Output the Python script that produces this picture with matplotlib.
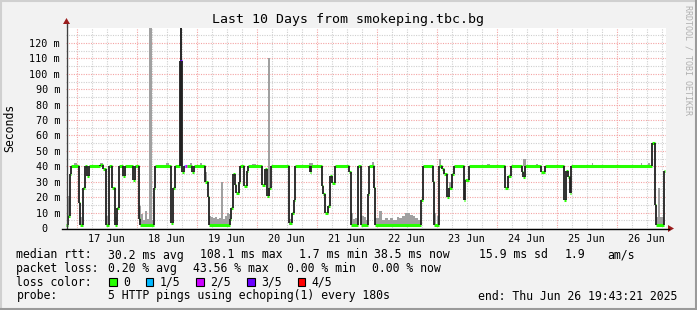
import numpy as np
import matplotlib.pyplot as plt
from matplotlib.lines import Line2D
from matplotlib.patches import Rectangle, Polygon

# time axis: hours after Mon Jun 16 19:43:21 2025 (10 days, end Thu Jun 26 19:43:21)
t_end = 239.6
first_midnight = 24 - (19 + 43 / 60 + 21 / 3600)
day_labels = ["17 Jun", "18 Jun", "19 Jun", "20 Jun", "21 Jun",
              "22 Jun", "23 Jun", "24 Jun", "25 Jun", "26 Jun"]

# median rtt as steps: start hour, value in ms, lost pings of 5
med_t = [0.0, 0.8, 1.4, 1.8, 5.1, 5.5, 6.8, 7.5, 8.5, 9.2, 13.6, 14.7, 16.1, 17.1,
         18.4, 19.5, 20.4, 21.1, 22.8, 23.5, 26.8, 27.7, 29.3, 29.7, 35.1, 35.7,
         42.1, 42.8, 43.5, 45.7, 46.2, 47.1, 47.5, 48.3, 50.4, 51.1, 55.7, 56.7,
         57.1, 65.7, 66.0, 66.7, 67.5, 68.0, 69.1, 69.7, 71.1, 72.4, 72.8, 78.4,
         79.5, 80.4, 81.3, 82.1, 89.1, 90.4, 91.3, 91.7, 97.5, 98.0, 102.4, 102.8,
         103.7, 104.8, 105.7, 106.4, 107.5, 113.3, 114.1, 116.8, 117.9, 118.1,
         120.8, 121.3, 123.1, 123.7, 142.1, 142.8, 146.8, 147.3, 149.1, 150.4,
         151.1, 152.4, 153.3, 154.4, 155.1, 159.1, 159.7, 161.1, 175.7, 176.7,
         178.1, 182.4, 182.8, 183.7, 190.1, 191.5, 199.1, 200.0, 200.8, 201.7,
         202.1, 234.4, 235.5, 236.0, 239.1]
med_v = [2, 8, 35, 40, 16, 2, 26, 40, 34, 40, 41, 38, 2, 40,
         26, 2, 13, 40, 34, 40, 31, 40, 6, 2, 26, 40,
         3, 26, 40, 108.1, 36, 40, 40, 40, 36, 40, 30, 20,
         2, 6, 13, 35, 28, 23, 30, 40, 27, 37, 40, 28,
         38, 21, 26, 40, 3, 10, 18, 40, 36, 40, 27, 22,
         10, 14, 34, 29, 40, 36, 2, 40, 36, 2,
         22, 40, 26, 2, 18, 40, 30, 2, 40, 38,
         35, 20, 26, 35, 40, 18, 31, 40, 26, 34,
         40, 36, 33, 40, 36, 40, 18, 37, 33, 23,
         40, 55, 15, 2, 37]
med_loss = [0] * len(med_v)
med_loss[29] = 3
med_loss[31] = 1
med_loss[32] = 2

# smoke (spread of the pings): start hour, end hour, low ms, high ms
smoke_t0 = [0.3, 0.8, 3.2, 5.5, 13.6, 16.0, 19.5,
            29.3, 30.1, 30.9, 31.7, 32.5, 33.2, 34.1,
            40.0, 45.6, 49.6, 53.6, 55.6,
            57.1, 57.9, 58.7, 59.5, 60.3, 61.1, 61.9, 62.7, 63.5, 64.3, 65.1,
            74.4, 80.8, 89.1, 97.2, 114.1, 114.9, 115.7, 118.1, 119.0, 119.9,
            122.4, 122.8,
            123.7, 125.3, 126.3, 127.6, 128.9, 129.6, 130.9, 132.3, 133.3, 134.3,
            135.6, 136.5, 137.6, 138.7, 139.6, 140.9,
            147.3, 148.2, 149.2, 153.2, 168.4, 182.8, 188.0, 210.4, 230.0, 232.8,
            236.0, 236.8, 237.4]
smoke_t1 = [0.8, 1.4, 4.4, 6.4, 14.8, 16.8, 20.4,
            30.1, 30.9, 31.7, 32.5, 33.2, 34.3, 34.9,
            41.2, 46.2, 50.4, 54.4, 56.4,
            57.9, 58.7, 59.5, 60.3, 61.1, 61.9, 62.6, 63.5, 64.3, 65.1, 65.7,
            76.0, 81.4, 90.4, 98.8, 114.9, 115.7, 116.8, 119.0, 119.9, 120.8,
            123.1, 123.6,
            125.3, 126.3, 127.6, 128.9, 129.6, 130.9, 132.3, 133.3, 134.3, 135.6,
            136.5, 137.6, 138.7, 139.6, 140.9, 142.0,
            148.2, 149.1, 150.0, 154.4, 169.6, 184.0, 188.8, 210.8, 230.4, 233.6,
            236.8, 237.4, 239.1]
smoke_lo = [2, 8, 40, 2, 40, 2, 2,
            4, 2, 2, 2, 2, 2, 2,
            40, 40, 40, 40, 30,
            2, 2, 2, 2, 2, 2, 2, 2, 2, 2, 2,
            40, 21, 2, 40, 2, 2, 2, 2, 2, 2,
            40, 26,
            2, 2, 2, 2, 2, 2, 2, 2, 2, 2,
            2, 2, 2, 2, 2, 2,
            2, 2, 40, 26, 40, 40, 40, 40, 40, 40,
            2, 2, 2]
smoke_hi = [22, 21, 42, 7, 42, 8, 7,
            14, 9, 5, 11, 6, 135, 5,
            42, 135, 42, 42, 36,
            8, 7, 6.5, 7, 6, 6.5, 30, 6, 7.5, 10, 9,
            41.5, 110, 6, 42, 10, 6, 6.5, 8, 7, 5,
            42.5, 32,
            6.5, 10.8, 5.4, 6.5, 5.4, 6.5, 5.4, 7, 6.5, 7.6,
            9.7, 10, 8.5, 7.6, 6.5, 5.4,
            10, 8, 45, 30, 41.5, 45, 41.5, 42, 42, 42,
            7, 26, 7]

loss_colors = ["#26ff00", "#00b8ff", "#cc00ff", "#6a00ff", "#ff0000"]
loss_names = ["0", "1/5", "2/5", "3/5", "4/5"]

mono = "DejaVu Sans Mono"
W, H = 697, 310
fig = plt.figure(figsize=(W / 100, H / 100), dpi=100)
fig.patch.set_facecolor("#f2f2f2")

ax = fig.add_axes([66 / W, 82 / H, 600 / W, 200 / H])
ax.set_facecolor("white")
ax.set_xlim(0, 240)
ax.set_ylim(0, 129.7)
for s in ax.spines.values():
    s.set_visible(False)

# grid
grid_minor = dict(color="#cfcfcf", lw=0.8, ls=(0, (1, 1.2)), zorder=1)
grid_major = dict(color="#f4a4a4", lw=0.8, ls=(0, (1, 1.2)), zorder=1)
for j in range(40):
    h = first_midnight + 6 * j
    if h < 240:
        ax.axvline(h, **(grid_major if j % 4 == 0 else grid_minor))
for k in range(1, 26):
    ax.axhline(5 * k, **(grid_major if k % 2 == 0 else grid_minor))

# smoke
for t0, t1, lo, hi, in zip(smoke_t0, smoke_t1, smoke_lo, smoke_hi):
    col = "#2a2a2a" if t0 == 45.6 else "#a0a0a0"
    ax.bar(t0, hi - lo, bottom=lo, width=t1 - t0, align="edge",
           color=col, lw=0, zorder=2)

# median: coloured steps + black connectors
t_next = med_t[1:] + [t_end]
for t0, t1, v, l in zip(med_t, t_next, med_v, med_loss):
    ax.hlines(v, t0, t1, color=loss_colors[l], lw=2.2, zorder=4)
for i in range(1, len(med_t)):
    ax.vlines(med_t[i], min(med_v[i - 1], med_v[i]), max(med_v[i - 1], med_v[i]),
              color="#202020", lw=1.3, zorder=5)

# ticks
noons = [first_midnight + 12 + 24 * k for k in range(10)]
ax.set_xticks(noons, day_labels, family=mono, fontsize=7.3)
yt = list(range(0, 130, 10))
ax.set_yticks(yt, ["0  "] + [f"{v} m" for v in yt[1:]], family=mono, fontsize=7.3)
ax.tick_params(axis="x", length=0, pad=4.5)
ax.tick_params(axis="y", length=0, pad=4.3)


def px(x, y):
    return x / W, 1 - y / H


# axes lines with arrows
fig.add_artist(Line2D(*zip(px(66.5, 228), px(66.5, 24)), color="#404040", lw=1))
fig.add_artist(Line2D(*zip(px(62, 228.5), px(669, 228.5)), color="black", lw=1))
fig.add_artist(Polygon([px(63, 24), px(70, 24), px(66.5, 18)], closed=True,
                       color="#9b1c1c", lw=0))
fig.add_artist(Polygon([px(668, 225), px(668, 232), px(674, 228.5)], closed=True,
                       color="#9b1c1c", lw=0))

# frame
fig.add_artist(Line2D(*zip(px(0, 1), px(W, 1)), color="#d0d0d0", lw=1.5))
fig.add_artist(Line2D(*zip(px(1, 0), px(1, H)), color="#d0d0d0", lw=1.5))
fig.add_artist(Line2D(*zip(px(0, H - 1), px(W, H - 1)), color="#9a9a9a", lw=1.5))
fig.add_artist(Line2D(*zip(px(W - 1, 0), px(W - 1, H)), color="#9a9a9a", lw=1.5))

# texts
fig.text(*px(348, 20), "Last 10 Days from smokeping.tbc.bg", family=mono,
         fontsize=9.5, ha="center", va="center")
fig.text(*px(10, 128), "Seconds", family=mono, fontsize=8.3, rotation=90,
         ha="center", va="center")
fig.text(*px(688, 60), "RRDTOOL / TOBI OETIKER", family=mono, fontsize=6,
         rotation=270, ha="center", va="center", color="#b0b0b0")

fs = 8.3
rows = [
    (255, [(16.4, "median rtt:"), (107.6, "30.2 ms avg"), (200, "108.1 ms max"),
           (298.7, "1.7 ms min"), (374, "38.5 ms now"), (478.7, "15.9 ms sd"),
           (565, "1.9"), (607.6, "am/s")]),
    (268.5, [(16.4, "packet loss:"), (107.6, "0.20 % avg"), (193.3, "43.56 % max"),
             (286.7, "0.00 % min"), (372.4, "0.00 % now")]),
    (282.3, [(16.4, "loss color:")]),
    (296, [(16.4, "probe:"), (107.6, "5 HTTP pings using echoping(1) every 180s"),
           (477.8, "end: Thu Jun 26 19:43:21 2025")]),
]
for y, items in rows:
    for x, s in items:
        fig.text(*px(x, y), s, family=mono, fontsize=fs, ha="left", va="center")

box_x = [109, 145.8, 196.4, 247, 297.8]
for bx, col, name in zip(box_x, loss_colors, loss_names):
    fig.add_artist(Rectangle(px(bx, 286.3), 7.5 / W, 8 / H, facecolor=col,
                             edgecolor="black", lw=0.8))
    fig.text(*px(bx + 14, 282.3), name, family=mono, fontsize=fs,
             ha="left", va="center")

fig.savefig("out.png", dpi=100, facecolor=fig.get_facecolor())
